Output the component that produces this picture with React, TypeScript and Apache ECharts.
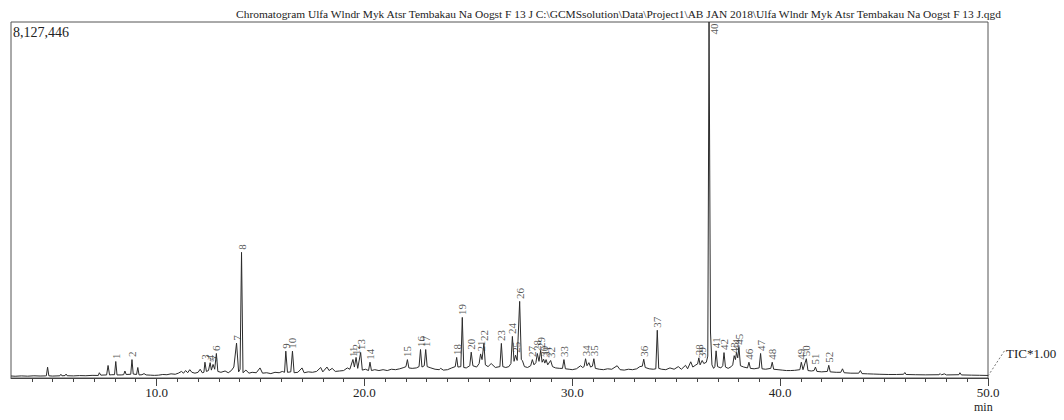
import React, { useEffect, useRef } from "react";
import * as echarts from "echarts";

// Retention time (min) and TIC intensity (counts)
const trace: [number, number][] = [
  [3.0, 46000], [3.2, 40000], [3.5, 48000], [3.8, 42000], [4.1, 50000], [4.4, 45000],
  [4.65, 48000], [4.7, 50000], [4.76, 247000], [4.82, 50000], [5.0, 44000],
  [5.35, 50000], [5.4, 85000], [5.45, 50000], [5.6, 55000], [5.65, 90000], [5.7, 52000],
  [6.0, 48000], [6.3, 55000], [6.6, 52000], [6.9, 60000], [7.2, 58000], [7.25, 120000], [7.32, 65000],
  [7.6, 70000], [7.67, 286000], [7.74, 70000], [7.85, 75000],
  [7.98, 75000], [8.04, 377000], [8.1, 70000], [8.3, 70000],
  [8.42, 75000], [8.48, 160000], [8.54, 80000],
  [8.76, 85000], [8.82, 420000], [8.88, 90000],
  [9.04, 80000], [9.1, 240000], [9.16, 70000],
  [9.3, 75000], [9.4, 100000], [9.5, 70000], [9.7, 65000], [9.9, 60000], [10.1, 65000],
  [10.3, 80000], [10.5, 75000], [10.7, 95000], [10.9, 85000], [11.05, 110000], [11.2, 150000],
  [11.3, 110000], [11.4, 170000], [11.5, 120000], [11.6, 190000], [11.7, 130000], [11.85, 110000],
  [12.0, 130000], [12.1, 200000], [12.2, 120000],
  [12.28, 130000], [12.33, 360000], [12.4, 150000],
  [12.5, 170000], [12.58, 350000], [12.64, 180000], [12.72, 310000], [12.8, 200000],
  [12.88, 560000], [12.95, 150000],
  [13.1, 130000], [13.3, 160000], [13.45, 120000], [13.6, 170000], [13.72, 250000],
  [13.85, 796000], [13.95, 140000], [14.02, 200000], [14.09, 2869000], [14.16, 120000],
  [14.3, 180000], [14.45, 110000], [14.6, 130000], [14.8, 120000], [14.98, 230000],
  [15.1, 110000], [15.3, 120000], [15.5, 100000], [15.7, 130000], [15.9, 120000], [16.05, 150000],
  [16.16, 130000], [16.22, 613000], [16.3, 130000],
  [16.46, 140000], [16.54, 613000], [16.62, 120000],
  [16.8, 130000], [17.0, 230000], [17.1, 120000], [17.3, 140000], [17.5, 130000], [17.7, 150000],
  [17.9, 240000], [18.0, 140000], [18.2, 250000], [18.3, 170000], [18.45, 220000], [18.6, 150000],
  [18.8, 160000], [19.0, 170000], [19.18, 230000], [19.3, 200000],
  [19.45, 423000], [19.52, 250000], [19.6, 470000], [19.68, 220000],
  [19.82, 583000], [19.9, 180000], [20.05, 200000],
  [20.2, 170000], [20.27, 361000], [20.34, 170000],
  [20.5, 190000], [20.7, 170000], [20.9, 190000], [21.1, 170000], [21.3, 200000], [21.5, 190000],
  [21.7, 210000], [21.9, 240000], [22.0, 260000], [22.07, 420000], [22.14, 230000],
  [22.3, 220000], [22.5, 230000],
  [22.63, 260000], [22.7, 650000], [22.77, 250000],
  [22.88, 280000], [22.95, 650000], [23.02, 260000],
  [23.2, 230000], [23.4, 200000], [23.6, 190000], [23.67, 220000], [23.8, 180000], [24.0, 190000],
  [24.2, 230000], [24.37, 260000], [24.44, 470000], [24.5, 250000],
  [24.64, 260000], [24.71, 1383000], [24.78, 240000], [24.9, 230000],
  [25.07, 280000], [25.14, 590000], [25.22, 280000], [25.4, 250000],
  [25.52, 330000], [25.59, 550000], [25.66, 420000], [25.75, 790000], [25.82, 300000],
  [25.95, 260000], [26.1, 330000], [26.3, 240000],
  [26.52, 260000], [26.59, 790000], [26.66, 260000],
  [26.8, 240000], [26.95, 260000],
  [27.05, 330000], [27.12, 949000], [27.2, 380000], [27.27, 520000], [27.35, 400000],
  [27.47, 1749000], [27.55, 420000], [27.6, 400000], [27.7, 260000], [27.85, 240000],
  [28.0, 280000], [28.08, 420000], [28.16, 300000],
  [28.25, 350000], [28.32, 560000], [28.4, 380000], [28.48, 630000], [28.55, 360000],
  [28.62, 430000], [28.68, 340000], [28.74, 420000], [28.82, 300000], [28.96, 400000], [29.05, 260000],
  [29.2, 230000], [29.4, 220000], [29.53, 220000], [29.6, 420000], [29.67, 210000],
  [29.85, 200000], [30.0, 190000], [30.2, 210000], [30.4, 280000], [30.5, 240000],
  [30.57, 260000], [30.64, 440000], [30.71, 280000], [30.8, 350000], [30.88, 250000],
  [30.97, 270000], [31.04, 440000], [31.11, 220000],
  [31.3, 200000], [31.5, 190000], [31.7, 210000], [31.9, 200000], [32.16, 280000], [32.3, 190000],
  [32.5, 180000], [32.7, 200000], [32.9, 190000], [33.1, 210000], [33.25, 260000],
  [33.37, 270000], [33.44, 430000], [33.51, 240000],
  [33.7, 210000], [33.9, 200000], [34.02, 210000], [34.09, 1090000], [34.16, 220000],
  [34.3, 200000], [34.5, 190000], [34.7, 230000], [34.9, 200000], [35.1, 260000], [35.25, 200000],
  [35.45, 290000], [35.55, 210000], [35.7, 370000], [35.8, 250000], [35.95, 300000],
  [36.03, 320000], [36.09, 460000], [36.15, 300000], [36.25, 400000], [36.33, 330000],
  [36.45, 360000], [36.52, 500000], [36.58, 8127446], [36.65, 1050000], [36.72, 300000],
  [36.8, 220000], [36.86, 260000], [36.92, 620000], [36.99, 260000],
  [37.15, 230000], [37.24, 280000], [37.3, 580000], [37.37, 250000],
  [37.5, 220000], [37.65, 260000],
  [37.72, 300000], [37.79, 510000], [37.85, 420000], [37.9, 580000], [37.96, 460000],
  [38.02, 700000], [38.09, 280000], [38.25, 250000],
  [38.43, 230000], [38.5, 360000], [38.57, 220000], [38.75, 210000],
  [38.99, 230000], [39.06, 560000], [39.13, 210000], [39.3, 200000],
  [39.55, 220000], [39.62, 360000], [39.69, 200000],
  [39.9, 190000], [40.1, 180000], [40.3, 170000], [40.5, 170000], [40.7, 175000],
  [40.95, 190000], [41.02, 360000], [41.1, 190000], [41.26, 440000], [41.34, 170000],
  [41.5, 160000], [41.63, 170000], [41.7, 250000], [41.77, 150000], [42.0, 140000],
  [42.27, 150000], [42.34, 290000], [42.41, 140000], [42.7, 130000],
  [42.92, 130000], [43.0, 210000], [43.08, 120000], [43.4, 110000],
  [43.78, 110000], [43.86, 170000], [43.94, 100000],
  [44.2, 95000], [44.5, 90000], [44.8, 85000], [45.2, 80000], [45.6, 80000],
  [45.94, 85000], [46.0, 125000], [46.06, 80000], [46.5, 75000], [47.0, 72000],
  [47.64, 75000], [47.7, 100000], [47.76, 72000], [47.9, 95000], [48.0, 70000],
  [48.6, 75000], [48.65, 120000], [48.72, 70000], [49.2, 65000], [49.6, 62000], [50.0, 58000],
];

const peakIds = [
  "1", "2", "3", "4", "5", "6", "7", "8", "9", "10", "11", "12", "13", "14", "15", "16", "17", "18",
  "19", "20", "21", "22", "23", "24", "25", "26", "27", "28", "29", "30", "31", "32", "33", "34", "35",
  "36", "37", "38", "39", "40", "41", "42", "43", "44", "45", "46", "47", "48", "49", "50", "51", "52",
];
const peakTimes = [
  8.04, 8.82, 12.33, 12.58, 12.72, 12.88, 13.85, 14.09, 16.22, 16.54, 19.45, 19.6, 19.82, 20.27,
  22.07, 22.7, 22.95, 24.44, 24.71, 25.14, 25.59, 25.75, 26.59, 27.12, 27.27, 27.47, 28.08, 28.32,
  28.48, 28.62, 28.74, 28.96, 29.6, 30.64, 31.04, 33.44, 34.09, 36.09, 36.25, 36.58, 36.92, 37.3,
  37.79, 37.9, 38.02, 38.5, 39.06, 39.62, 41.02, 41.26, 41.7, 42.34,
];

const minorTicks = [
  4, 5, 6, 7, 8, 9, 11, 12, 13, 14, 15, 16, 17, 18, 19, 21, 22, 23, 24, 25, 26, 27, 28, 29,
  31, 32, 33, 34, 35, 36, 37, 38, 39, 41, 42, 43, 44, 45, 46, 47, 48, 49,
];
const majorTicks = [10, 20, 30, 40, 50];

const maxIntensity = 8127446;
const titleText =
  "Chromatogram Ulfa Wlndr Myk Atsr Tembakau Na Oogst F 13 J C:\\GCMSsolution\\Data\\Project1\\AB JAN 2018\\Ulfa Wlndr Myk Atsr Tembakau Na Oogst F 13 J.qgd";

const FONT = "'Liberation Serif', 'Times New Roman', serif";

export default function App() {
  const ref = useRef<HTMLDivElement>(null);

  useEffect(() => {
    if (!ref.current) return;
    const chart = echarts.init(ref.current, undefined, { renderer: "svg" });

    const labelData = peakIds.map((id, i) => {
      const t = peakTimes[i];
      const pt = trace.find((p) => p[0] === t);
      const v = pt ? pt[1] : 0;
      const item: any = { value: [t, v, id] };
      if (id === "40") {
        item.label = { position: [5, 2], align: "right", verticalAlign: "middle" };
      }
      return item;
    });

    chart.setOption({
      animation: false,
      backgroundColor: "#ffffff",
      grid: {
        left: 11,
        right: 76,
        top: 22,
        bottom: 42,
        show: true,
        borderColor: "#555",
        borderWidth: 1,
        backgroundColor: "transparent",
      },
      xAxis: [
        {
          type: "value",
          min: 3,
          max: 50,
          position: "bottom",
          axisLine: { show: true, lineStyle: { color: "#444", width: 1 } },
          axisTick: { show: true, customValues: minorTicks, length: 4, lineStyle: { color: "#444" } },
          axisLabel: { show: false },
          splitLine: { show: false },
        },
        {
          type: "value",
          min: 3,
          max: 50,
          position: "bottom",
          axisLine: { show: false },
          axisTick: { show: true, customValues: majorTicks, length: 8, lineStyle: { color: "#444" } },
          axisLabel: {
            show: true,
            customValues: majorTicks,
            formatter: (v: number) => v.toFixed(1),
            fontFamily: FONT,
            fontSize: 13,
            color: "#222",
            margin: 8,
          },
          splitLine: { show: false },
        },
      ],
      yAxis: {
        type: "value",
        min: 0,
        max: maxIntensity,
        axisLine: { show: false },
        axisTick: { show: false },
        axisLabel: { show: false },
        splitLine: { show: false },
      },
      series: [
        {
          type: "line",
          data: trace,
          showSymbol: false,
          symbol: "none",
          lineStyle: { color: "#2b2b2b", width: 1 },
          clip: true,
          z: 2,
        },
        {
          type: "scatter",
          data: labelData,
          symbolSize: 1,
          itemStyle: { color: "rgba(0,0,0,0)" },
          clip: false,
          z: 3,
          label: {
            show: true,
            formatter: (p: any) => p.value[2],
            position: "top",
            distance: 2,
            rotate: 90,
            align: "left",
            verticalAlign: "middle",
            fontFamily: FONT,
            fontSize: 11,
            color: "#2b2b2b",
          },
        },
      ],
      graphic: [
        {
          type: "text",
          right: 61,
          top: 8,
          style: { text: titleText, font: `11.4px ${FONT}`, fill: "#222" },
        },
        {
          type: "text",
          left: 13,
          top: 25,
          style: { text: "8,127,446", font: `14px ${FONT}`, fill: "#222" },
        },
        {
          type: "line",
          shape: { x1: 988, y1: 376, x2: 1005, y2: 350 },
          style: { stroke: "#777", lineWidth: 1, lineDash: [2, 2] },
        },
        {
          type: "text",
          left: 1006,
          top: 347,
          style: { text: "TIC*1.00", font: `13px ${FONT}`, fill: "#222" },
        },
        {
          type: "text",
          left: 974,
          top: 401,
          style: { text: "min", font: `12px ${FONT}`, fill: "#222" },
        },
      ],
    });

    return () => chart.dispose();
  }, []);

  return (
    <div
      ref={ref}
      style={{ position: "fixed", left: 0, top: 0, width: 1064, height: 420, background: "#fff" }}
    />
  );
}
